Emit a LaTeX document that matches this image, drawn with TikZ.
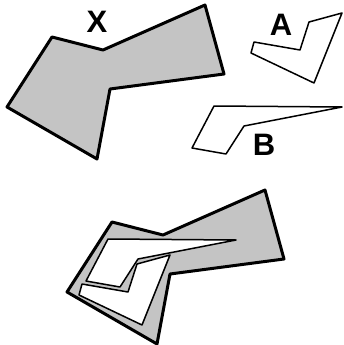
\documentclass[tikz,border=0pt]{standalone}
\usepackage{fontspec}
\setmainfont{Liberation Sans}
\usepackage{tikz}
\definecolor{stipplegray}{RGB}{196,196,196}

\tikzset{
  polyX/.style={insert path={(52,37) -- (103,50) -- (205,5) -- (224,74) -- (110,89) -- (97,159) -- (7,107) -- cycle}},
  polyA/.style={insert path={(254,42) -- (300,50) -- (309,22) -- (342,13) -- (314,83) -- (251,53) -- cycle}},
  polyB/.style={insert path={(214,106) -- (342,107) -- (244,126) -- (226,154) -- (192,148) -- cycle}}
}

\begin{document}
\begin{tikzpicture}[x=1pt,y=-1pt,
  outline/.style={draw=black,line width=3pt,line join=round,fill=stipplegray},
  piece/.style={draw=black,line width=1.5pt,line join=round},
  letter/.style={font=\fontsize{31}{31}\selectfont\bfseries,inner sep=0pt}]
  \useasboundingbox (0,0) rectangle (344,345);
  % the three pieces
  \path[outline,polyX];
  \path[piece,fill=white,polyA];
  \path[piece,fill=white,polyB];
  \node[letter] (labelX) at (97,22) {X};
  \node[letter] (labelA) at (281,25) {A};
  \node[letter] (labelB) at (264,145) {B};
  % A and B laid over X
  \begin{scope}[shift={(60,185)}]
    \path[outline,polyX];
  \end{scope}
  \begin{scope}[shift={(-172,242)}]
    \fill[white,polyA];
  \end{scope}
  \begin{scope}[shift={(-106,133)}]
    \fill[white,polyB];
  \end{scope}
  \begin{scope}[shift={(-172,242)}]
    \path[piece,polyA];
  \end{scope}
  \begin{scope}[shift={(-106,133)}]
    \path[piece,polyB];
  \end{scope}
\end{tikzpicture}
\end{document}
